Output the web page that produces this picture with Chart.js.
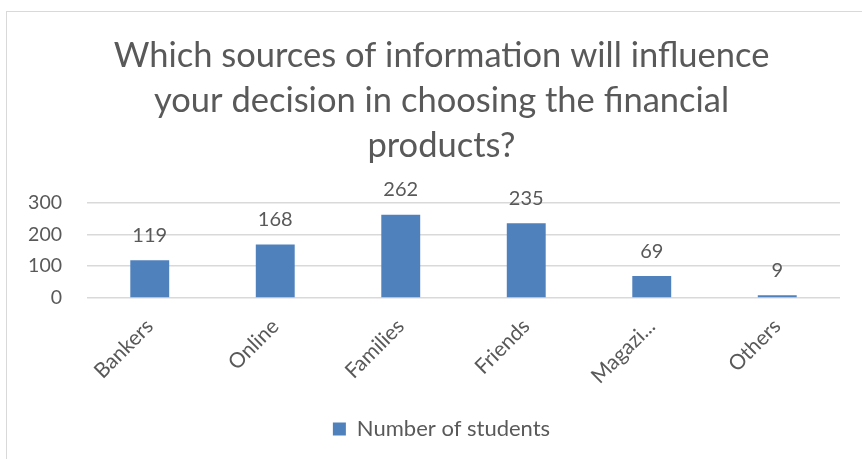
<!DOCTYPE html>
<html>
<head>
<meta charset="utf-8">
<script src="https://cdn.jsdelivr.net/npm/chart.js@4.4.1/dist/chart.umd.min.js"></script>
<style>
  html, body { margin: 0; padding: 0; background: #ffffff; }
  #wrap { position: relative; width: 862px; height: 459px; }
  #frame { position: absolute; left: 6px; top: 11px; width: 900px; height: 500px;
           border: 1px solid #d9d9d9; box-sizing: border-box; }
  canvas { position: absolute; left: 0; top: 0; }
</style>
</head>
<body>
<div id="wrap">
  <div id="frame"></div>
  <canvas id="chart" width="862" height="459"></canvas>
</div>
<script>
const titleLines = ['Which sources of information will influence', 'your decision in choosing the financial', 'products?'];
const categories = ['Bankers', 'Online', 'Families', 'Friends', 'Magazi...', 'Others'];
const students = [119, 168, 262, 235, 69, 9];
const yTicks = [0, 100, 200, 300];
const seriesName = 'Number of students';

const TEXT = '#595959';
const FONT = 'Lato, "Liberation Sans", sans-serif';

// value labels above each bar
const valueLabels = {
  id: 'valueLabels',
  afterDatasetsDraw(chart) {
    const ctx = chart.ctx;
    const meta = chart.getDatasetMeta(0);
    ctx.save();
    ctx.fillStyle = TEXT;
    ctx.font = '20px ' + FONT;
    ctx.textAlign = 'center';
    ctx.textBaseline = 'middle';
    meta.data.forEach((bar, i) => {
      ctx.fillText(String(chart.data.datasets[0].data[i]), bar.x, bar.y - 25);
    });
    ctx.restore();
  }
};

// title and legend are centred on the whole frame, not on the plot area
const centreOnFrame = {
  id: 'centreOnFrame',
  afterLayout(chart) {
    const shift = 18;
    [chart.titleBlock, chart.legend].forEach(box => {
      if (box) { box.left += shift; box.right += shift; }
    });
  }
};

new Chart(document.getElementById('chart'), {
  type: 'bar',
  data: {
    labels: categories,
    datasets: [{
      label: seriesName,
      data: students,
      backgroundColor: '#4f81bd',
      borderWidth: 0,
      barPercentage: 0.31,
      categoryPercentage: 1.0
    }]
  },
  options: {
    responsive: false,
    animation: false,
    layout: { padding: { left: 7, right: 22, top: 11, bottom: 9 } },
    plugins: {
      title: {
        display: true,
        text: titleLines,
        color: TEXT,
        font: { family: FONT, size: 34.5, weight: 'normal', lineHeight: 1.31 },
        padding: { top: 22, bottom: 34 }
      },
      legend: {
        position: 'bottom',
        labels: {
          color: TEXT,
          font: { family: FONT, size: 22 },
          boxWidth: 13, boxHeight: 13,
          padding: 8
        }
      },
      tooltip: { enabled: false }
    },
    scales: {
      x: {
        grid: { display: false },
        border: { display: false },
        ticks: {
          color: TEXT,
          font: { family: FONT, size: 21 },
          minRotation: 45, maxRotation: 45,
          autoSkip: false,
          padding: 8
        },
        afterFit(scale) { scale.height = 112; }
      },
      y: {
        min: 0, max: 300,
        afterBuildTicks(scale) { scale.ticks = yTicks.map(v => ({ value: v })); },
        grid: { color: '#d9d9d9', lineWidth: 1.5, drawTicks: false },
        border: { display: false },
        ticks: { color: TEXT, font: { family: FONT, size: 19.5 }, padding: 25 },
        afterFit(scale) { scale.width = 80; }
      }
    }
  },
  plugins: [valueLabels, centreOnFrame]
});
</script>
</body>
</html>
